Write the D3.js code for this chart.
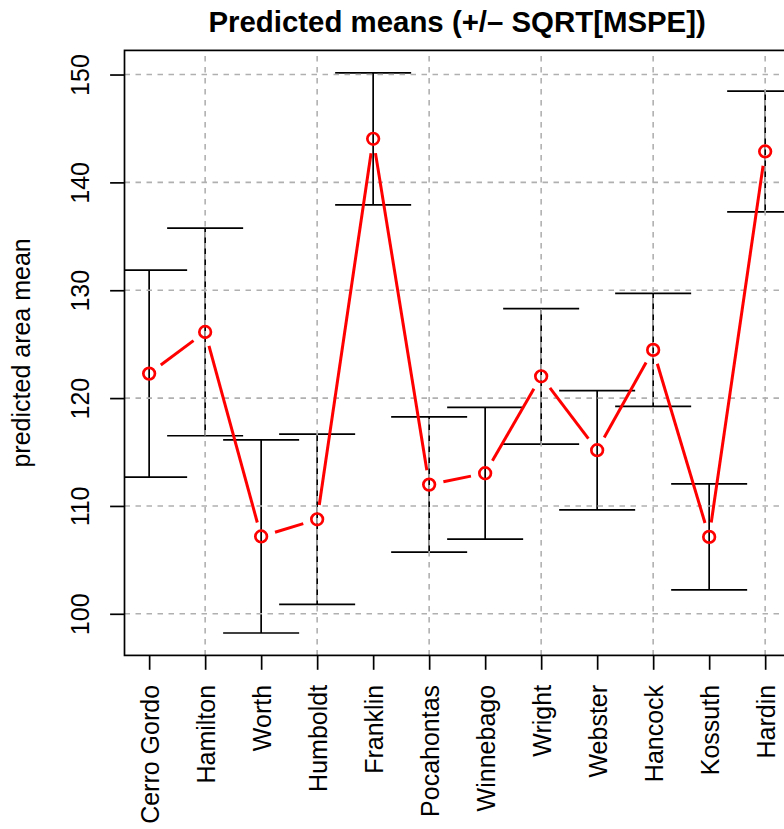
<!DOCTYPE html>
<html>
<head>
<meta charset="utf-8">
<script src="https://cdn.jsdelivr.net/npm/d3@7/dist/d3.min.js"></script>
<style>
  html, body { margin: 0; padding: 0; background: #fff; }
  svg { display: block; font-family: "Liberation Sans", Arial, Helvetica, sans-serif; }
</style>
</head>
<body>
<svg id="chart" width="784" height="829"></svg>
<script>
// County-level predicted means with +/- sqrt(MSPE) bands
const counties = ["Cerro Gordo", "Hamilton", "Worth", "Humboldt", "Franklin", "Pocahontas",
                  "Winnebago", "Wright", "Webster", "Hancock", "Kossuth", "Hardin"];
const predMeans = [122.27, 126.13, 107.17, 108.76, 144.04, 111.98,
                   113.03, 122.02, 115.17, 124.47, 107.13, 142.87];
const rootMSPE = [9.60, 9.62, 8.95, 7.89, 6.12, 6.27,
                  6.11, 6.28, 5.53, 5.24, 4.92, 5.60];
const yTicks = [100, 110, 120, 130, 140, 150];
const xGridAt = [2, 4, 6, 8, 10, 12];

const titleText = "Predicted means (+/\u2013 SQRT[MSPE])";
const yLabel = "predicted area mean";

const svg = d3.select("#chart");
const lower = predMeans.map((m, i) => m - rootMSPE[i]);
const upper = predMeans.map((m, i) => m + rootMSPE[i]);

// plot region
const plot = { left: 124.5, right: 789.8, top: 50.4, bottom: 655.4 };
const labelSize = 25;

// axis ranges padded by 4% like a base-graphics plot
const n = counties.length;
const xPad = (n - 1) * 0.04;
const x = d3.scaleLinear().domain([1 - xPad, n + xPad]).range([plot.left, plot.right]);
const yMin = d3.min(lower), yMax = d3.max(upper);
const yPad = (yMax - yMin) * 0.04;
const y = d3.scaleLinear().domain([yMin - yPad, yMax + yPad]).range([plot.bottom, plot.top]);

svg.append("defs").append("clipPath").attr("id", "plotClip")
  .append("rect")
  .attr("x", plot.left).attr("y", plot.top)
  .attr("width", plot.right - plot.left).attr("height", plot.bottom - plot.top);

const inner = svg.append("g").attr("clip-path", "url(#plotClip)");

// error bars
const capHalf = 38;
const bars = inner.append("g").attr("stroke", "#000").attr("stroke-width", 1.7);
counties.forEach((c, i) => {
  const cx = x(i + 1);
  bars.append("line").attr("x1", cx).attr("x2", cx).attr("y1", y(lower[i])).attr("y2", y(upper[i]));
  bars.append("line").attr("x1", cx - capHalf).attr("x2", cx + capHalf).attr("y1", y(upper[i])).attr("y2", y(upper[i]));
  bars.append("line").attr("x1", cx - capHalf).attr("x2", cx + capHalf).attr("y1", y(lower[i])).attr("y2", y(lower[i]));
});

// grid
const grid = inner.append("g").attr("stroke", "#b0b0b0").attr("stroke-width", 1.6)
  .attr("stroke-dasharray", "5.5,5.5");
yTicks.forEach(v => {
  grid.append("line").attr("x1", plot.left).attr("x2", plot.right).attr("y1", y(v)).attr("y2", y(v));
});
xGridAt.forEach(v => {
  grid.append("line").attr("x1", x(v)).attr("x2", x(v)).attr("y1", plot.bottom).attr("y2", plot.top);
});

// red line with gaps around the points
const gap = 14.5;
const pts = predMeans.map((m, i) => [x(i + 1), y(m)]);
const red = inner.append("g").attr("stroke", "#ff0000").attr("fill", "none");
for (let i = 0; i < pts.length - 1; i++) {
  const [x0, y0] = pts[i], [x1, y1] = pts[i + 1];
  const len = Math.hypot(x1 - x0, y1 - y0);
  if (len <= 2 * gap) continue;
  const ux = (x1 - x0) / len, uy = (y1 - y0) / len;
  red.append("line").attr("stroke-width", 3)
    .attr("x1", x0 + ux * gap).attr("y1", y0 + uy * gap)
    .attr("x2", x1 - ux * gap).attr("y2", y1 - uy * gap);
}
red.selectAll("circle").data(pts).join("circle")
  .attr("cx", d => d[0]).attr("cy", d => d[1]).attr("r", 5.8).attr("stroke-width", 2.7);

// box
svg.append("rect").attr("x", plot.left).attr("y", plot.top)
  .attr("width", plot.right - plot.left).attr("height", plot.bottom - plot.top)
  .attr("fill", "none").attr("stroke", "#000").attr("stroke-width", 1.7);

// y axis
const yAxis = svg.append("g").attr("transform", `translate(${plot.left},0)`)
  .call(d3.axisLeft(y).tickValues(yTicks).tickSize(14.4).tickFormat(d3.format("d")));
yAxis.select(".domain").remove();
yAxis.selectAll(".tick line").attr("stroke", "#000").attr("stroke-width", 1.7);
yAxis.selectAll(".tick text")
  .attr("x", null).attr("dy", null)
  .attr("transform", "translate(-35.5,0) rotate(-90)")
  .attr("text-anchor", "middle")
  .attr("font-size", labelSize).attr("fill", "#000")
  .attr("font-family", "Liberation Sans, Arial, sans-serif");

// x axis
const xAxis = svg.append("g").attr("transform", `translate(0,${plot.bottom})`)
  .call(d3.axisBottom(x).tickValues(d3.range(1, n + 1)).tickSize(14.4)
    .tickFormat(d => counties[d - 1]));
xAxis.select(".domain").remove();
xAxis.selectAll(".tick line").attr("stroke", "#000").attr("stroke-width", 1.7);
xAxis.selectAll(".tick text")
  .attr("y", null).attr("dy", null)
  .attr("transform", "translate(9,29.5) rotate(-90)")
  .attr("text-anchor", "end")
  .attr("font-size", labelSize).attr("fill", "#000")
  .attr("font-family", "Liberation Sans, Arial, sans-serif");

// title and axis label
svg.append("text")
  .attr("x", (plot.left + plot.right) / 2).attr("y", 32)
  .attr("text-anchor", "middle").attr("font-weight", "bold").attr("font-size", 29.4)
  .text(titleText);

svg.append("text")
  .attr("transform", `translate(30,${(plot.top + plot.bottom) / 2}) rotate(-90)`)
  .attr("text-anchor", "middle").attr("font-size", labelSize)
  .text(yLabel);
</script>
</body>
</html>
